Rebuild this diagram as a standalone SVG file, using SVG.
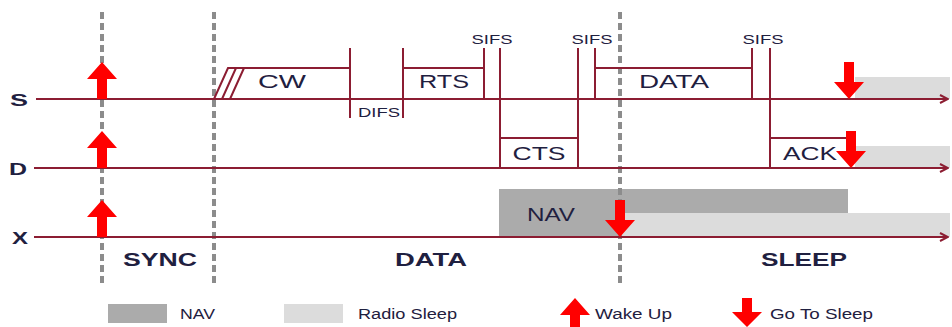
<svg xmlns="http://www.w3.org/2000/svg" width="952" height="327" viewBox="0 0 952 327">
<defs>
<style>
.ln{stroke:#8c1d32;stroke-width:2;fill:none}
.dash{stroke:#8c8c8c;stroke-width:4;stroke-dasharray:7 4;fill:none}
.t{font-family:"Liberation Sans",Arial,sans-serif;fill:#1f2040}
.box{font-size:18px;text-anchor:middle}
.small{font-size:13px;text-anchor:middle}
.lane{font-size:17px;font-weight:bold;text-anchor:middle}
.phase{font-size:18px;font-weight:bold;text-anchor:middle}
.leg{font-size:14px}
.nav{fill:#ababab}
.sleep{fill:#dcdcdc}
.red{fill:#ff0000}
</style>
<marker id="ah" viewBox="0 0 10 10" refX="9" refY="5" markerWidth="10" markerHeight="10" markerUnits="userSpaceOnUse" orient="auto">
<path d="M1,1 L9,5 L1,9" fill="none" stroke="#8c1d32" stroke-width="2"/>
</marker>
<path id="up" d="M0,0 L15,17 L5,17 L5,37 L-5,37 L-5,17 L-15,17 Z"/>
<path id="down" d="M0,0 L15,-17 L5,-17 L5,-37 L-5,-37 L-5,-17 L-15,-17 Z"/>
</defs>
<rect width="952" height="327" fill="#ffffff"/>

<g id="sleep-areas">
<rect class="sleep" x="855" y="77" width="95" height="22"/>
<rect class="sleep" x="855" y="146" width="95" height="22"/>
<rect class="nav" x="499" y="189" width="349" height="24"/>
<rect class="nav" x="499" y="212" width="121" height="25"/>
<rect class="sleep" x="620" y="213" width="330" height="24"/>
</g>

<g id="phase-dividers">
<line class="dash" x1="102" y1="12" x2="102" y2="286"/>
<line class="dash" x1="214" y1="12" x2="214" y2="286"/>
<line class="dash" x1="620" y1="12" x2="620" y2="286"/>
</g>

<g id="connectors">
<line class="ln" x1="36" y1="99" x2="948" y2="99" marker-end="url(#ah)"/>
<line class="ln" x1="34" y1="168" x2="948" y2="168" marker-end="url(#ah)"/>
<line class="ln" x1="34" y1="237" x2="948" y2="237" marker-end="url(#ah)"/>
</g>

<g id="lane-labels">
<text class="t lane" x="19" y="106" textLength="18" lengthAdjust="spacingAndGlyphs">S</text>
<text class="t lane" x="18" y="175" textLength="18" lengthAdjust="spacingAndGlyphs">D</text>
<text class="t lane" x="20" y="244" textLength="16" lengthAdjust="spacingAndGlyphs">X</text>
</g>

<g id="cw">
<path class="ln" d="M214,99 L228,68 L350,68"/>
<path class="ln" d="M222,99 L236,68 M230,99 L244,68" stroke-width="1.5"/>
<text class="t box" x="282" y="88" textLength="48" lengthAdjust="spacingAndGlyphs">CW</text>
</g>
<g id="difs">
<line class="ln" x1="350" y1="48" x2="350" y2="118"/>
<line class="ln" x1="403" y1="48" x2="403" y2="118"/>
<text class="t small" x="379" y="117" textLength="42" lengthAdjust="spacingAndGlyphs">DIFS</text>
</g>
<g id="rts">
<path class="ln" d="M403,68 L484,68"/>
<line class="ln" x1="484" y1="48" x2="484" y2="99"/>
<text class="t box" x="444" y="88" textLength="50" lengthAdjust="spacingAndGlyphs">RTS</text>
</g>
<g id="sifs1">
<line class="ln" x1="500" y1="48" x2="500" y2="168"/>
<text class="t small" x="492" y="44" textLength="41" lengthAdjust="spacingAndGlyphs">SIFS</text>
</g>
<g id="cts">
<path class="ln" d="M500,138 L578,138"/>
<line class="ln" x1="578" y1="48" x2="578" y2="168"/>
<text class="t box" x="539" y="160" textLength="53" lengthAdjust="spacingAndGlyphs">CTS</text>
</g>
<g id="sifs2">
<line class="ln" x1="595" y1="48" x2="595" y2="99"/>
<text class="t small" x="592" y="44" textLength="41" lengthAdjust="spacingAndGlyphs">SIFS</text>
</g>
<g id="data">
<path class="ln" d="M595,68 L752,68"/>
<line class="ln" x1="752" y1="48" x2="752" y2="99"/>
<text class="t box" x="674" y="88" textLength="70" lengthAdjust="spacingAndGlyphs">DATA</text>
</g>
<g id="sifs3">
<line class="ln" x1="770" y1="48" x2="770" y2="168"/>
<text class="t small" x="763" y="44" textLength="41" lengthAdjust="spacingAndGlyphs">SIFS</text>
</g>
<g id="ack">
<path class="ln" d="M770,138 L848,138"/>
<text class="t box" x="810" y="160" textLength="54" lengthAdjust="spacingAndGlyphs">ACK</text>
</g>
<g id="nav">
<text class="t box" x="551" y="221" textLength="48" lengthAdjust="spacingAndGlyphs">NAV</text>
</g>

<g id="wake-arrows">
<use href="#up" class="red" x="102" y="62"/>
<use href="#up" class="red" x="102" y="131"/>
<use href="#up" class="red" x="102" y="200"/>
</g>
<g id="sleep-arrows">
<use href="#down" class="red" x="849" y="99"/>
<use href="#down" class="red" x="851" y="168"/>
<use href="#down" class="red" x="620" y="237"/>
</g>

<g id="phases">
<text class="t phase" x="160" y="266" textLength="74" lengthAdjust="spacingAndGlyphs">SYNC</text>
<text class="t phase" x="431" y="266" textLength="72" lengthAdjust="spacingAndGlyphs">DATA</text>
<text class="t phase" x="804" y="266" textLength="86" lengthAdjust="spacingAndGlyphs">SLEEP</text>
</g>

<g id="legend">
<rect class="nav" x="108" y="304" width="59" height="19"/>
<text class="t leg" x="180" y="319" textLength="35" lengthAdjust="spacingAndGlyphs">NAV</text>
<rect class="sleep" x="284" y="304" width="59" height="19"/>
<text class="t leg" x="358" y="319" textLength="99" lengthAdjust="spacingAndGlyphs">Radio Sleep</text>
<use href="#up" class="red" x="575" y="298"/>
<text class="t leg" x="595" y="319" textLength="77" lengthAdjust="spacingAndGlyphs">Wake Up</text>
<path class="red" d="M747,327 L762,312 L752,312 L752,298 L742,298 L742,312 L732,312 Z"/>
<text class="t leg" x="770" y="319" textLength="103" lengthAdjust="spacingAndGlyphs">Go To Sleep</text>
</g>
</svg>
